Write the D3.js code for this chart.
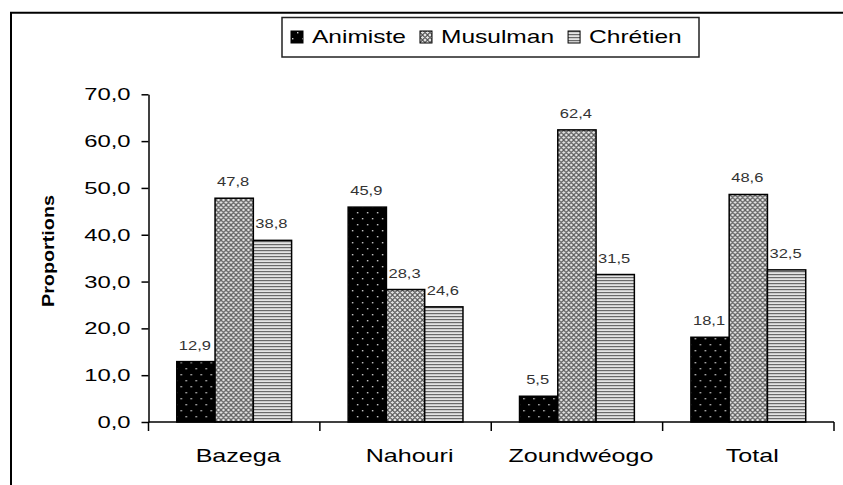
<!DOCTYPE html>
<html>
<head>
<meta charset="utf-8">
<script src="https://cdn.jsdelivr.net/npm/d3@7"></script>
<style>
  body { margin: 0; background: #fff; }
  svg { display: block; font-family: "Liberation Sans", Arial, sans-serif; }
</style>
</head>
<body>
<svg id="chart" width="843" height="485"></svg>
<script>
// ----- données -----
const categories = ["Bazega", "Nahouri", "Zoundwéogo", "Total"];
const series = ["Animiste", "Musulman", "Chrétien"];
const animiste = [12.9, 45.9, 5.5, 18.1];
const musulman = [47.8, 28.3, 62.4, 48.6];
const chretien = [38.8, 24.6, 31.5, 32.5];
const yTicks = [0, 10, 20, 30, 40, 50, 60, 70];
const yTitle = "Proportions";

const values = [animiste, musulman, chretien];
const rows = categories.map((c, i) => ({ cat: c, vals: series.map((s, j) => ({ key: s, idx: j, value: values[j][i] })) }));

const fmt = v => d3.format(".1f")(v).replace(".", ",");

// texte un peu élargi comme dans l'original
function widen(sel, k) {
    sel.each(function () {
        const w = this.getComputedTextLength();
        d3.select(this).attr("textLength", w * k).attr("lengthAdjust", "spacingAndGlyphs");
    });
}

const svg = d3.select("#chart");

// ----- motifs -----
const defs = svg.append("defs");
const pDots = defs.append("pattern").attr("id", "p0").attr("patternUnits", "userSpaceOnUse")
    .attr("width", 10).attr("height", 12);
pDots.append("rect").attr("width", 10).attr("height", 12).attr("fill", "#000");
pDots.append("rect").attr("x", 2).attr("y", 2).attr("width", 1.4).attr("height", 1.4).attr("fill", "#d0d0d0");
pDots.append("rect").attr("x", 7).attr("y", 8).attr("width", 1.4).attr("height", 1.4).attr("fill", "#d0d0d0");

const pDiam = defs.append("pattern").attr("id", "p1").attr("patternUnits", "userSpaceOnUse")
    .attr("width", 5).attr("height", 5);
pDiam.append("rect").attr("width", 5).attr("height", 5).attr("fill", "#e6e6e6");
pDiam.append("path").attr("d", "M0,2.5L2.5,0L5,2.5L2.5,5Z").attr("fill", "none")
    .attr("stroke", "#555").attr("stroke-width", 1.1);

const pLines = defs.append("pattern").attr("id", "p2").attr("patternUnits", "userSpaceOnUse")
    .attr("width", 4).attr("height", 3);
pLines.append("rect").attr("width", 4).attr("height", 3).attr("fill", "#e4e4e4");
pLines.append("rect").attr("y", 1).attr("width", 4).attr("height", 1.2).attr("fill", "#6a6a6a");

const fills = ["url(#p0)", "url(#p1)", "url(#p2)"];

// ----- cadre -----
svg.append("line").attr("x1", 10).attr("x2", 843).attr("y1", 12.7).attr("y2", 12.7)
    .attr("stroke", "#000").attr("stroke-width", 2);
svg.append("line").attr("x1", 11).attr("x2", 11).attr("y1", 12).attr("y2", 485)
    .attr("stroke", "#000").attr("stroke-width", 2);

// ----- échelles -----
const x = d3.scaleBand().domain(categories).range([148.5, 834]).padding(0);
const bw = x.bandwidth();
const xs = d3.scaleBand().domain(series).range([bw * 0.165, bw * 0.835]).padding(0);
const y = d3.scaleLinear().domain([0, 70]).range([422, 94.3]);

// ----- barres -----
const groups = svg.append("g").selectAll("g").data(rows).join("g")
    .attr("transform", d => `translate(${x(d.cat)},0)`);

groups.selectAll("rect").data(d => d.vals).join("rect")
    .attr("x", d => xs(d.key))
    .attr("y", d => y(d.value))
    .attr("width", xs.bandwidth())
    .attr("height", d => y(0) - y(d.value))
    .attr("fill", d => fills[d.idx])
    .attr("stroke", "#000").attr("stroke-width", 1.5);

const vlab = groups.selectAll("text").data(d => d.vals).join("text")
    .attr("x", d => xs(d.key) + xs.bandwidth() / 2 - 1)
    .attr("y", d => y(d.value) - 12)
    .attr("text-anchor", "middle")
    .attr("font-size", 13)
    .attr("fill", "#333")
    .text(d => fmt(d.value));
widen(vlab, 1.27);

// ----- axe Y -----
const gy = svg.append("g").attr("transform", "translate(148.5,0)")
    .call(d3.axisLeft(y).tickValues(yTicks).tickSize(7).tickSizeOuter(0).tickPadding(11).tickFormat(fmt));
gy.select(".domain").attr("stroke-width", 1.5);
gy.selectAll(".tick line").attr("stroke-width", 1.5);
gy.selectAll(".tick text").attr("font-size", 17).attr("fill", "#000")
    .attr("font-family", "'Liberation Sans', Arial, sans-serif");
widen(gy.selectAll(".tick text"), 1.4);

// ----- axe X -----
const xEdges = categories.map(c => x(c)).concat([x.range()[1]]);
const gx = svg.append("g");
gx.append("line").attr("x1", 148.5).attr("x2", x.range()[1]).attr("y1", y(0)).attr("y2", y(0))
    .attr("stroke", "#000").attr("stroke-width", 1.5);
gx.selectAll("line.tk").data(xEdges).join("line").attr("class", "tk")
    .attr("x1", d => d).attr("x2", d => d).attr("y1", y(0)).attr("y2", y(0) + 9)
    .attr("stroke", "#000").attr("stroke-width", 1.5);
const clab = gx.selectAll("text").data(categories).join("text")
    .attr("x", d => x(d) + bw / 2 + 4)
    .attr("y", 462)
    .attr("text-anchor", "middle")
    .attr("font-size", 19)
    .attr("fill", "#000")
    .text(d => d);
widen(clab, 1.32);

// titre de l'axe Y
svg.append("text")
    .attr("transform", "translate(54,251) rotate(-90)")
    .attr("text-anchor", "middle")
    .attr("font-size", 16)
    .attr("font-weight", "bold")
    .attr("textLength", 112)
    .attr("lengthAdjust", "spacingAndGlyphs")
    .text(yTitle);

// ----- légende -----
const leg = svg.append("g");
leg.append("rect").attr("x", 282).attr("y", 17.5).attr("width", 417).attr("height", 39.5)
    .attr("fill", "#fff").attr("stroke", "#222").attr("stroke-width", 1.5);
let cx = 291;
series.forEach((s, i) => {
    leg.append("rect").attr("x", cx).attr("y", 31).attr("width", 12).attr("height", 12)
        .attr("fill", fills[i]).attr("stroke", "#000").attr("stroke-width", 1);
    const t = leg.append("text").attr("x", cx + 21).attr("y", 43)
        .attr("font-size", 19).attr("fill", "#000").text(s);
    const w = t.node().getComputedTextLength() * 1.29;
    t.attr("textLength", w).attr("lengthAdjust", "spacingAndGlyphs");
    cx += 21 + w + 14;
});
</script>
</body>
</html>
